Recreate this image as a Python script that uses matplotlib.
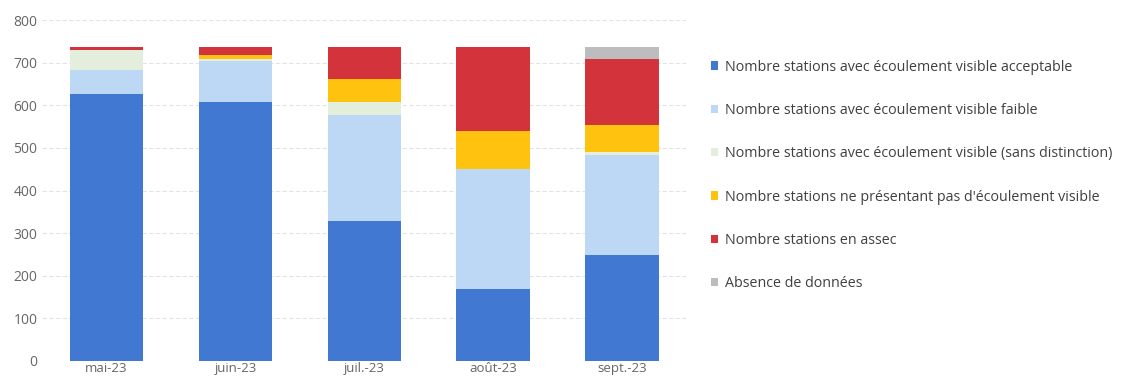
import matplotlib.pyplot as plt
from matplotlib.patches import Patch

plt.rcParams['font.family'] = ['Open Sans', 'DejaVu Sans']

mois = ['mai-23', 'juin-23', 'juil.-23', 'août-23', 'sept.-23']

# nombre de stations par modalité d'écoulement
acceptable = [626, 607, 328, 170, 249]
faible = [56, 96, 249, 280, 235]
sans_distinction = [47, 6, 31, 0, 7]
pas_ecoulement = [2, 9, 53, 89, 63]
assec = [7, 20, 77, 199, 155]
absence = [0, 0, 0, 0, 29]

series = [
    ('Nombre stations avec écoulement visible acceptable', acceptable, '#4178d2'),
    ('Nombre stations avec écoulement visible faible', faible, '#bcd8f5'),
    ('Nombre stations avec écoulement visible (sans distinction)', sans_distinction, '#e4eedd'),
    ("Nombre stations ne présentant pas d'écoulement visible", pas_ecoulement, '#ffc20e'),
    ('Nombre stations en assec', assec, '#d3333a'),
    ('Absence de données', absence, '#bdbdbf'),
]

fig = plt.figure(figsize=(11.4, 3.8), dpi=100)
ax = fig.add_axes([0.037, 0.05, 0.565, 0.897])

x = range(len(mois))
bottom = [0] * len(mois)
handles = []
for label, vals, color in series:
    ax.bar(x, vals, bottom=bottom, width=0.57, color=color, zorder=2)
    bottom = [b + v for b, v in zip(bottom, vals)]
    handles.append(Patch(facecolor=color, label=label))

ax.set_ylim(0, 800)
ax.set_xlim(-0.5, 4.5)
ax.set_yticks(range(0, 801, 100))
ax.set_xticks(list(x))
ax.set_xticklabels(mois)
ax.yaxis.grid(True, color='#e3e3e3', linewidth=0.8, linestyle=(0, (4, 2)), zorder=0)
for s in ax.spines.values():
    s.set_visible(False)
ax.tick_params(length=0, colors='#666666', labelsize=10)
ax.tick_params(axis='x', pad=1, labelsize=9.5)

fig.legend(handles=handles, loc='upper left', bbox_to_anchor=(0.617, 0.862),
           frameon=False, fontsize=10.3, labelcolor='#404040',
           handlelength=0.55, handleheight=0.55, handletextpad=0.45,
           labelspacing=1.98, borderpad=0)

fig.savefig('out.png', dpi=100)
